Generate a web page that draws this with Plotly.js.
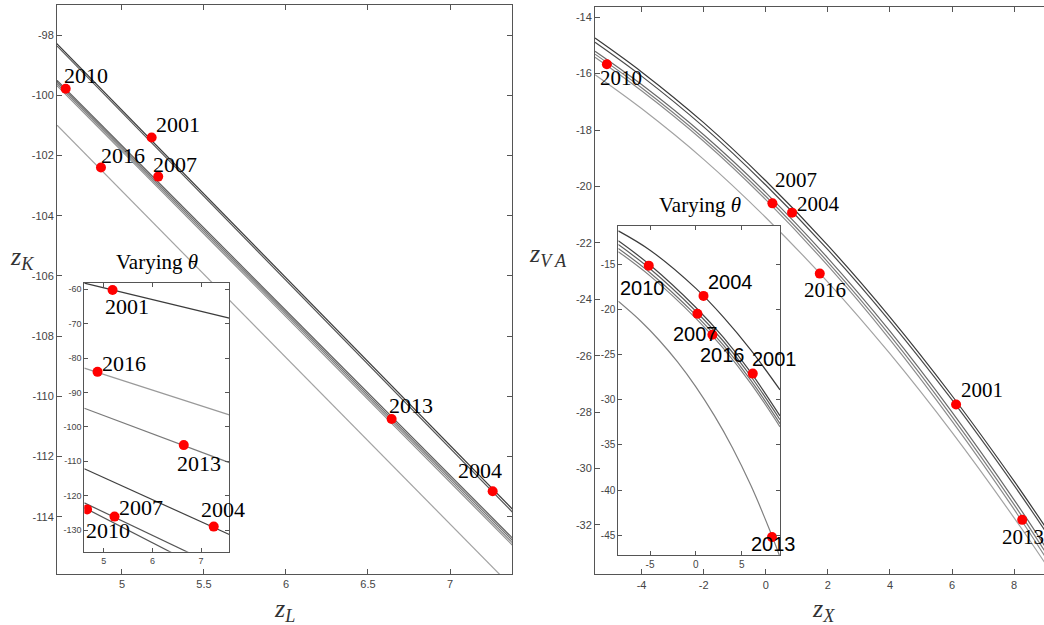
<!DOCTYPE html>
<html><head><meta charset="utf-8">
<script src="https://cdn.plot.ly/plotly-3.0.1.min.js"></script>
<style>html,body{margin:0;padding:0;overflow:hidden;background:#fff}#chart{width:1080px;height:625px}</style>
</head><body><div id="chart"></div>
<script>
// ---------------- DATA ----------------
const years = ['2001', '2004', '2007', '2010', '2013', '2016'];

// Left main panel (z_L vs z_K): straight lines given by their end points
const leftLineX = [4.6, 7.38];
const leftLineA1 = [-98.27, -113.74];
const leftLineA2 = [-98.34, -113.84];
const leftLineB1 = [-99.48, -114.70];
const leftLineB2 = [-99.54, -114.78];
const leftLineB3 = [-99.60, -114.86];
const leftLineB4 = [-99.66, -114.94];
const leftLineC  = [-100.97, -116.34];
const leftDotX = [5.181, 7.26, 5.221, 4.657, 6.644, 4.872];
const leftDotY = [-101.4, -113.15, -102.7, -99.78, -110.75, -102.4];

// Left inset (varying theta)
const leftInsetLineX = [4.6, 7.58];
const leftInsetStartY = [-58.2, -112.2, -122.1, -123.5, -94.6, -82.9];
const leftInsetEndY   = [-68.4, -131.3, -142.2, -145.2, -110.4, -96.5];
const leftInsetDotY   = [-60.2, -129.0, -126.1, -124.0, -105.3, -84.0];

// Right main panel (z_X vs z_VA)
const rightCurveX = [-5.5, -4, -2, 0, 2, 4, 6, 8, 9.22];
const rightCurve1 = [-14.74, -15.94, -17.74, -19.80, -22.09, -24.63, -27.42, -30.45, -32.42];
const rightCurve2 = [-14.89, -16.09, -17.89, -19.95, -22.24, -24.78, -27.57, -30.60, -32.57];
const rightCurve3 = [-15.21, -16.39, -18.17, -20.22, -22.54, -25.13, -28.00, -31.11, -33.14];
const rightCurve4 = [-15.31, -16.50, -18.29, -20.35, -22.68, -25.28, -28.16, -31.28, -33.32];
const rightCurve5 = [-15.42, -16.61, -18.40, -20.47, -22.81, -25.43, -28.32, -31.45, -33.50];
const rightCurve6 = [-16.04, -17.24, -19.04, -21.10, -23.39, -25.93, -28.72, -31.75, -33.72];
const rightDotX = [6.13, 0.847, 0.215, -5.117, 8.26, 1.74];
const rightDotY = [-27.73, -20.93, -20.6, -15.67, -31.82, -23.09];

// Right inset (varying theta)
const rightInsetX = [-8.46, -5, 0, 3, 6, 9.17];
const rightInset1 = [-11.3, -13.44, -17.67, -20.85, -24.51, -28.9];
const rightInset2 = [-12.4, -15.08, -19.78, -23.10, -27.0, -31.79];
const rightInset3 = [-12.82, -15.50, -20.20, -23.52, -27.42, -32.21];
const rightInset4 = [-13.25, -15.93, -20.63, -23.95, -27.85, -32.64];
const rightInset5 = [-13.6, -16.28, -20.98, -24.30, -28.20, -32.99];
const rightInset6X = [-8.46, -6, -4, -2, 0, 2, 4, 6, 8, 9.17];
const rightInset6  = [-19.1, -21.31, -23.41, -25.81, -28.57, -31.73, -35.33, -39.5, -44.3, -47.4];
const rightInsetDotX = [6.2, 0.83, 0.17, -5.14, 8.3, 1.8];
const rightInsetDotY = [-27.1, -18.5, -20.48, -15.15, -45.2, -22.8];

// tick values
const leftXTicks = [5, 5.5, 6, 6.5, 7];
const leftYTicks = [-114, -112, -110, -108, -106, -104, -102, -100, -98];
const rightXTicks = [-4, -2, 0, 2, 4, 6, 8];
const rightYTicks = [-32, -30, -28, -26, -24, -22, -20, -18, -16, -14];
const leftInsetXTicks = [5, 6, 7];
const leftInsetYTicks = [-130, -120, -110, -100, -90, -80, -70, -60];
const rightInsetXTicks = [-5, 0, 5];
const rightInsetYTicks = [-45, -40, -35, -30, -25, -20, -15];

// ---------------- STYLE / LAYOUT ----------------
const W = 1080, H = 625;
const px = v => v / W, py = v => (H - v) / H;

// label offsets in pixels [dx, dy(up)] per year, for each panel
const offLeft      = [[26.6, 12.5], [-12.3, 20.5], [16.7, 12.5], [20.8, 13.2], [19.2, 13.2], [22.3, 11.8]];
const offLeftInset = [[14.2, -16.3], [9.6, 17.1], [26.7, 8.8], [21, -20.8], [15.3, -18.3], [26.6, 8.4]];
const offRight     = [[25.7, 14], [26.2, 9], [23.3, 23], [13.8, -14], [0.7, -17.5], [5.2, -16]];
const offRightInset= [[21.3, 14.9], [26.7, 13.5], [-2.3, -20], [-6, -22.6], [1.3, -7.2], [10.4, -20.2]];

const serif = 'Liberation Serif, DejaVu Serif, serif';
const sans = 'Liberation Sans, Arial, sans-serif';

function line(x, y, color, xa, ya, smooth) {
  return {x: x, y: y, type: 'scatter', mode: 'lines', xaxis: xa, yaxis: ya,
          line: {color: color, width: 1.2, shape: smooth ? 'spline' : 'linear', smoothing: 1},
          hoverinfo: 'skip', showlegend: false};
}
function dots(x, y, xa, ya) {
  return {x: x, y: y, type: 'scatter', mode: 'markers', xaxis: xa, yaxis: ya,
          marker: {color: '#ff0000', size: 10}, hoverinfo: 'skip', showlegend: false};
}

const traces = [
  line(leftLineX, leftLineA1, '#3c3c3c', 'x', 'y'),
  line(leftLineX, leftLineA2, '#555555', 'x', 'y'),
  line(leftLineX, leftLineB1, '#5e5e5e', 'x', 'y'),
  line(leftLineX, leftLineB2, '#737373', 'x', 'y'),
  line(leftLineX, leftLineB3, '#858585', 'x', 'y'),
  line(leftLineX, leftLineB4, '#8f8f8f', 'x', 'y'),
  line(leftLineX, leftLineC, '#a3a3a3', 'x', 'y'),
  dots(leftDotX, leftDotY, 'x', 'y'),

  line(rightCurveX, rightCurve1, '#3a3a3a', 'x2', 'y2', true),
  line(rightCurveX, rightCurve2, '#4c4c4c', 'x2', 'y2', true),
  line(rightCurveX, rightCurve3, '#6a6a6a', 'x2', 'y2', true),
  line(rightCurveX, rightCurve4, '#7c7c7c', 'x2', 'y2', true),
  line(rightCurveX, rightCurve5, '#8c8c8c', 'x2', 'y2', true),
  line(rightCurveX, rightCurve6, '#a3a3a3', 'x2', 'y2', true),
  dots(rightDotX, rightDotY, 'x2', 'y2')
];
const insetColors = ['#3c3c3c', '#404040', '#555555', '#555555', '#7a7a7a', '#9a9a9a'];
for (let i = 0; i < years.length; i++) {
  traces.push(line(leftInsetLineX, [leftInsetStartY[i], leftInsetEndY[i]], insetColors[i], 'x3', 'y3'));
}
traces.push(dots(leftDotX, leftInsetDotY, 'x3', 'y3'));
traces.push(line(rightInsetX, rightInset1, '#3c3c3c', 'x4', 'y4', true));
traces.push(line(rightInsetX, rightInset2, '#444444', 'x4', 'y4', true));
traces.push(line(rightInsetX, rightInset3, '#5e5e5e', 'x4', 'y4', true));
traces.push(line(rightInsetX, rightInset4, '#707070', 'x4', 'y4', true));
traces.push(line(rightInsetX, rightInset5, '#828282', 'x4', 'y4', true));
traces.push(line(rightInset6X, rightInset6, '#808080', 'x4', 'y4', true));
traces.push(dots(rightInsetDotX, rightInsetDotY, 'x4', 'y4'));

const annotations = [];
function labels(xs, ys, offs, xr, yr, font) {
  for (let i = 0; i < years.length; i++) {
    annotations.push({x: xs[i], y: ys[i], xref: xr, yref: yr, text: years[i], showarrow: false,
      xanchor: 'center', yanchor: 'middle', xshift: offs[i][0], yshift: offs[i][1], font: font});
  }
}
labels(leftDotX, leftDotY, offLeft, 'x', 'y', {family: serif, size: 22, color: '#000'});
labels(leftDotX, leftInsetDotY, offLeftInset, 'x3', 'y3', {family: serif, size: 22, color: '#000'});
labels(rightDotX, rightDotY, offRight, 'x2', 'y2', {family: serif, size: 21, color: '#000'});
labels(rightInsetDotX, rightInsetDotY, offRightInset, 'x4', 'y4', {family: sans, size: 20, color: '#000'});

function paperText(text, x, y, size, color) {
  annotations.push({text: text, x: px(x), y: py(y), xref: 'paper', yref: 'paper', showarrow: false,
    xanchor: 'center', yanchor: 'middle', font: {family: serif, size: size, color: color}});
}
paperText('Varying <i>θ</i>', 156.5, 262, 21, '#000');
paperText('Varying <i>θ</i>', 699.7, 205, 21, '#000');
paperText('<i>z</i><sub><i>K</i></sub>', 22, 258, 26, '#333');
paperText('<i>z</i><sub><i>L</i></sub>', 284, 610, 26, '#333');
paperText('<i>z</i><sub><i>V A</i></sub>', 548, 255, 26, '#333');
paperText('<i>z</i><sub><i>X</i></sub>', 823, 610, 26, '#333');

function axis(domain, range, tickvals, size, ticklen, anchor) {
  return {domain: domain, range: range, tickmode: 'array', tickvals: tickvals,
    ticktext: tickvals.map(v => String(v)), anchor: anchor,
    ticks: 'inside', ticklen: ticklen, tickcolor: '#555', tickwidth: 1,
    showline: true, linecolor: '#555', linewidth: 1, mirror: 'ticks',
    showgrid: false, zeroline: false, fixedrange: true,
    tickfont: {family: sans, size: size, color: '#444'}};
}

const layout = {
  width: W, height: H,
  margin: {l: 0, r: 0, t: 0, b: 0},
  paper_bgcolor: '#fff', plot_bgcolor: '#fff',
  showlegend: false,
  xaxis:  axis([px(57), px(512)], [4.604, 7.378], leftXTicks, 11, 5, 'y'),
  yaxis:  axis([py(574), py(5)], [-115.9, -97.0], leftYTicks, 11, 5, 'x'),
  xaxis2: axis([px(595), px(1052)], [-5.5, 9.22], rightXTicks, 11, 5, 'y2'),
  yaxis2: axis([py(574.3), py(7.3)], [-33.75, -13.65], rightYTicks, 11, 5, 'x2'),
  xaxis3: axis([px(84.3), px(229.3)], [4.6, 7.58], leftInsetXTicks, 9, 4, 'y3'),
  yaxis3: axis([py(551.7), py(282.7)], [-136.3, -58.08], leftInsetYTicks, 9, 4, 'x3'),
  xaxis4: axis([px(618.3), px(780)], [-8.46, 9.17], rightInsetXTicks, 10, 4, 'y4'),
  yaxis4: axis([py(555), py(225.7)], [-47.18, -10.73], rightInsetYTicks, 10, 4, 'x4'),
  annotations: annotations
};

Plotly.newPlot('chart', traces, layout, {staticPlot: true, displayModeBar: false});
</script></body></html>
